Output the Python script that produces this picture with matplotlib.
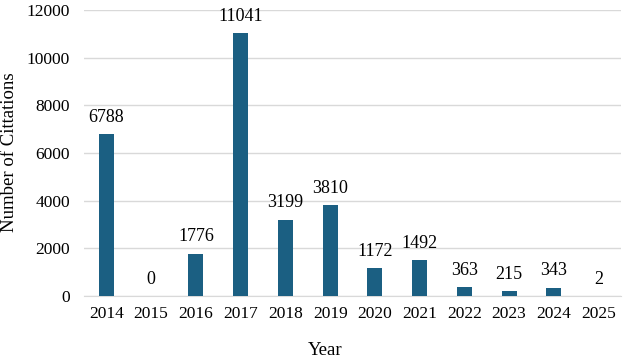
"""Bar chart of citations per year."""

import matplotlib
matplotlib.use("Agg")
import matplotlib.pyplot as plt

years = ["2014", "2015", "2016", "2017", "2018", "2019",
         "2020", "2021", "2022", "2023", "2024", "2025"]
citations = [6788, 0, 1776, 11041, 3199, 3810, 1172, 1492, 363, 215, 343, 2]

plt.rcParams["font.family"] = ["Liberation Serif", "DejaVu Serif"]

fig = plt.figure(figsize=(6.24, 3.59), dpi=100)
ax = fig.add_axes([84 / 624, 63 / 359, 537 / 624, 286 / 359])

bars = ax.bar(years, citations, width=0.33, color="#1b5f82", zorder=3)
for bar, val in zip(bars, citations):
    ax.annotate(str(val), (bar.get_x() + bar.get_width() / 2, val),
                xytext=(0, 6), textcoords="offset points",
                ha="center", va="bottom", fontsize=13)

ax.set_ylim(0, 12000)
ax.set_yticks(range(0, 12001, 2000))
ax.set_xlim(-0.5, len(years) - 0.5)
ax.grid(axis="y", color="#d9d9d9", linewidth=1, zorder=0)
for side in ["top", "right", "left"]:
    ax.spines[side].set_visible(False)
ax.spines["bottom"].set_color("#d9d9d9")
ax.tick_params(axis="both", length=0, labelsize=12.5)
ax.tick_params(axis="x", pad=7)
ax.tick_params(axis="y", pad=10)

fig.text(325 / 624, 1 - 355 / 359, "Year", fontsize=13.5,
         ha="center", va="baseline")
fig.text(10 / 624, 0.575, "Number of Cittations", fontsize=13.5,
         rotation=90, ha="center", va="center")

fig.savefig("out.png", dpi=100)
